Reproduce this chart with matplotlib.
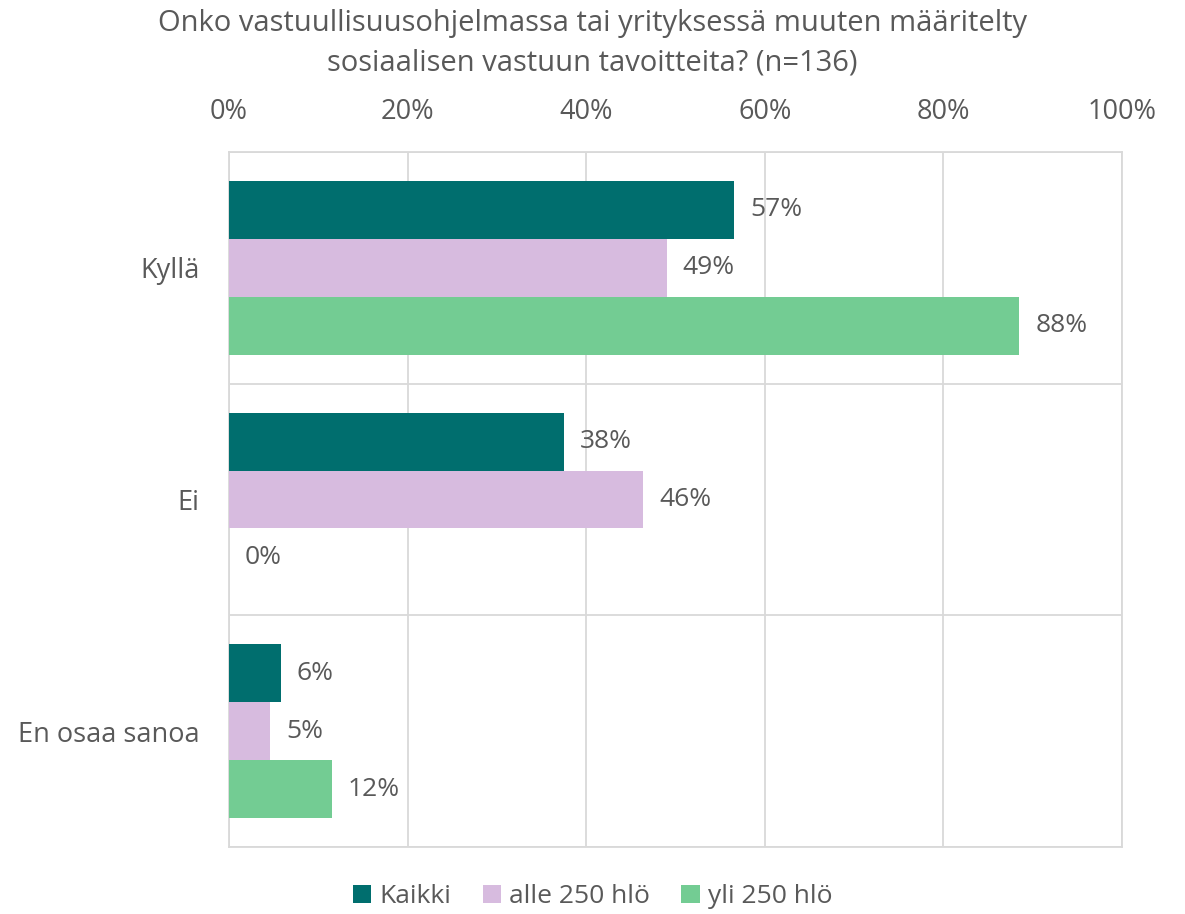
import numpy as np
import matplotlib.pyplot as plt
from matplotlib.ticker import MultipleLocator, FuncFormatter

plt.rcParams['font.family'] = ['Open Sans', 'DejaVu Sans']

categories = ['Kyllä', 'Ei', 'En osaa sanoa']
series_names = ['Kaikki', 'alle 250 hlö', 'yli 250 hlö']
kaikki = [56.6, 37.5, 5.8]
alle_250 = [49.0, 46.4, 4.6]
yli_250 = [88.5, 0.0, 11.5]
colors = ['#006E6E', '#D7BBDF', '#73CC93']
title = 'Onko vastuullisuusohjelmassa tai yrityksessä muuten määritelty\nsosiaalisen vastuun tavoitteita? (n=136)'

text_col = '#595959'
grid_col = '#D9D9D9'

fig = plt.figure(figsize=(11.85, 9.14), dpi=100)
ax = fig.add_axes([0.1932, 0.0733, 0.7536, 0.7604])

y = np.arange(len(categories))
h = 0.25
for i, (vals, name, c) in enumerate(zip([kaikki, alle_250, yli_250], series_names, colors)):
    pos = y + (i - 1) * h
    ax.barh(pos, vals, height=h, color=c, label=name, zorder=3)
    for p, v in zip(pos, vals):
        ax.text(v + 1.8, p, f'{v:.0f}%', va='center', ha='left',
                fontsize=19, color=text_col, zorder=4)

ax.set_xlim(0, 100)
ax.set_ylim(len(categories) - 0.5, -0.5)
ax.xaxis.set_major_locator(MultipleLocator(20))
ax.xaxis.set_major_formatter(FuncFormatter(lambda v, _: f'{v:.0f}%'))
ax.xaxis.tick_top()
ax.tick_params(axis='x', length=0, pad=19, labelsize=19.5, labelcolor=text_col)
ax.set_yticks(y)
ax.set_yticklabels(categories)
ax.tick_params(axis='y', length=0, pad=21, labelsize=19.5, labelcolor=text_col)

# vertical gridlines at the ticks, horizontal separators between categories
ax.grid(axis='x', color=grid_col, linewidth=1.3, zorder=0)
for b in np.arange(len(categories) + 1) - 0.5:
    ax.axhline(b, color=grid_col, linewidth=1.3, zorder=1)
for s in ax.spines.values():
    s.set_color(grid_col)
    s.set_linewidth(1.3)

fig.text(0.5, 0.99, title, ha='center', va='top', fontsize=21,
         color=text_col, linespacing=1.45)

fig.legend(loc='lower center', bbox_to_anchor=(0.5, -0.021), ncol=3,
           frameon=False, fontsize=19, labelcolor=text_col,
           handlelength=0.7, handleheight=0.7, handletextpad=0.3,
           columnspacing=1.2)

fig.savefig('out.png', dpi=100)
